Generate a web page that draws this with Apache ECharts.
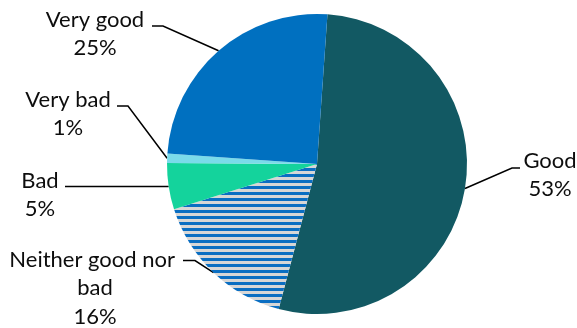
<!DOCTYPE html>
<html>
<head>
<meta charset="utf-8">
<script src="https://cdn.jsdelivr.net/npm/echarts@6/dist/echarts.min.js"></script>
<style>
  html, body { margin: 0; padding: 0; background: #fff; }
  #chart { width: 577px; height: 328px; }
</style>
</head>
<body>
<div id="chart"></div>
<script>
// Survey answers, in drawing order (clockwise from the top)
const categories = ['Good', 'Neither good nor bad', 'Bad', 'Very bad', 'Very good'];
const shares = [53, 16, 5, 1, 25];
const sliceColors = ['#125963', null, '#14D39C', '#7ADBEA', '#0070C0'];

// Where each label sits, and the elbow of its leader line
const labelSpots = {
  'Good':                 { x: 550, y: 175, elbow: [512, 168], end: [520, 168] },
  'Neither good nor bad': { x: 95,  y: 288, elbow: [195, 260.5], end: [183, 260.5] },
  'Bad':                  { x: 40,  y: 195, elbow: null, end: [65, null] },
  'Very bad':             { x: 68,  y: 114, elbow: [128, 106], end: [117, 106] },
  'Very good':            { x: 95,  y: 34,  elbow: [163, 26], end: [152, 26] }
};

// Horizontal blue / grey stripe fill
function stripeFill() {
  const c = document.createElement('canvas');
  c.width = 6; c.height = 6;
  const g = c.getContext('2d');
  g.fillStyle = '#D6D6D6';
  g.fillRect(0, 0, 6, 6);
  g.fillStyle = '#0A6EC2';
  g.fillRect(0, 0, 6, 3);
  return { image: c, repeat: 'repeat' };
}

const chart = echarts.init(document.getElementById('chart'), null, { renderer: 'canvas' });

const data = categories.map((name, i) => ({
  name: name,
  value: shares[i],
  itemStyle: { color: sliceColors[i] || stripeFill() },
  label: name === 'Neither good nor bad'
    ? { width: 185, overflow: 'break' }
    : { overflow: 'none' }
}));

chart.setOption({
  animation: false,
  series: [{
    type: 'pie',
    center: [317, 164],
    radius: 150,
    startAngle: 86,
    clockwise: true,
    data: data,
    label: {
      show: true,
      formatter: '{b}\n{c}%',
      fontFamily: 'Lato',
      fontSize: 22,
      lineHeight: 28.5,
      color: '#0d0d0d',
      align: 'center',
      overflow: 'none'
    },
    labelLine: {
      show: true,
      smooth: false,
      lineStyle: { color: '#000', width: 1.5 }
    },
    labelLayout: function (p) {
      const name = categories[p.dataIndex];
      const s = labelSpots[name];
      const anchor = p.labelLinePoints ? p.labelLinePoints[0] : [0, 0];
      let pts;
      if (s.elbow) {
        pts = [anchor, s.elbow, s.end];
      } else {
        const end = [s.end[0], anchor[1]];
        pts = [anchor, end, end];
      }
      return {
        x: s.x,
        y: s.y,
        align: 'center',
        verticalAlign: 'middle',
        labelLinePoints: pts
      };
    }
  }]
});
</script>
</body>
</html>
